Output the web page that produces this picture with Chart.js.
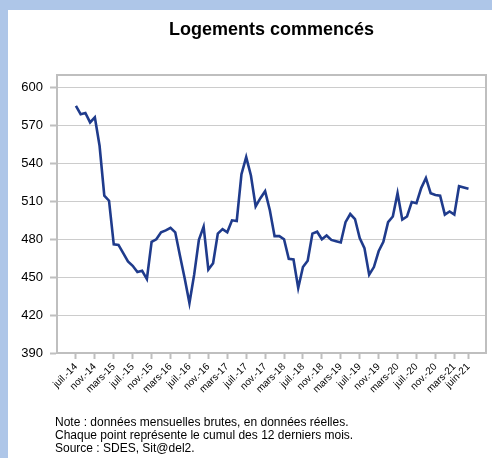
<!DOCTYPE html>
<html>
<head>
<meta charset="utf-8">
<script src="https://cdn.jsdelivr.net/npm/chart.js@4"></script>
<style>
  html, body { margin: 0; padding: 0; background: #aec6e8; }
  #wrap { width: 492px; height: 458px; }
</style>
</head>
<body>
<div id="wrap"><canvas id="c" width="492" height="458"></canvas></div>
<script>
const categories = [
  'juil.-14','août-14','sept.-14','oct.-14','nov.-14','déc.-14',
  'janv.-15','févr.-15','mars-15','avr.-15','mai-15','juin-15','juil.-15','août-15','sept.-15','oct.-15','nov.-15','déc.-15',
  'janv.-16','févr.-16','mars-16','avr.-16','mai-16','juin-16','juil.-16','août-16','sept.-16','oct.-16','nov.-16','déc.-16',
  'janv.-17','févr.-17','mars-17','avr.-17','mai-17','juin-17','juil.-17','août-17','sept.-17','oct.-17','nov.-17','déc.-17',
  'janv.-18','févr.-18','mars-18','avr.-18','mai-18','juin-18','juil.-18','août-18','sept.-18','oct.-18','nov.-18','déc.-18',
  'janv.-19','févr.-19','mars-19','avr.-19','mai-19','juin-19','juil.-19','août-19','sept.-19','oct.-19','nov.-19','déc.-19',
  'janv.-20','févr.-20','mars-20','avr.-20','mai-20','juin-20','juil.-20','août-20','sept.-20','oct.-20','nov.-20','déc.-20',
  'janv.-21','févr.-21','mars-21','avr.-21','mai-21','juin-21'
];

const logementsCommences = [
  585.5, 579, 580, 572.5, 576.5, 554, 514.5, 510.5, 476, 475.5,
  469, 462.5, 459, 454, 455, 448.5, 478, 480, 485.5, 487,
  489, 485.5, 467, 449, 429.5, 452, 479.5, 490, 456, 461,
  484.5, 488, 485.5, 495, 494.5, 531.5, 545, 530.5, 506, 512.5,
  518, 503, 482.5, 482.5, 480, 464.5, 464, 441.5, 458, 463,
  484.5, 486, 480, 483, 479.5, 478.5, 477.5, 493.5, 500, 496,
  481, 473, 452, 458, 470.5, 478, 493.5, 498, 516.5, 495.5,
  498, 509.5, 508.5, 520.5, 528.5, 516.5, 515, 514.5, 499.5, 502,
  499.5, 522, 521, 520
];

const xTickLabels = [
  'juil.-14','nov.-14','mars-15','juil.-15','nov.-15','mars-16','juil.-16','nov.-16',
  'mars-17','juil.-17','nov.-17','mars-18','juil.-18','nov.-18','mars-19','juil.-19',
  'nov.-19','mars-20','juil.-20','nov.-20','mars-21','juin-21'
];

const yTickValues = [390, 420, 450, 480, 510, 540, 570, 600];

const titleText = 'Logements commencés';
const noteLines = [
  'Note : données mensuelles brutes, en données réelles.',
  'Chaque point représente le cumul des 12 derniers mois.',
  'Source : SDES, Sit@del2.'
];

const points = logementsCommences.map((v, i) => ({ x: i, y: v }));

const FONT = '"Liberation Sans", Arial, sans-serif';

const backgroundPlugin = {
  id: 'panelBg',
  beforeDraw(chart) {
    const ctx = chart.ctx;
    ctx.save();
    ctx.fillStyle = '#aec6e8';
    ctx.fillRect(0, 0, chart.width, chart.height);
    ctx.fillStyle = '#ffffff';
    ctx.fillRect(8, 10, chart.width - 8, chart.height - 10);
    ctx.restore();
  }
};

const framePlugin = {
  id: 'frame',
  beforeDatasetsDraw(chart) {
    const a = chart.chartArea;
    const ctx = chart.ctx;
    ctx.save();
    ctx.strokeStyle = '#bfbfbf';
    ctx.lineWidth = 2;
    ctx.strokeRect(a.left, a.top, a.right - a.left, a.bottom - a.top);
    ctx.restore();
  }
};

const notesPlugin = {
  id: 'notes',
  afterDraw(chart) {
    const ctx = chart.ctx;
    ctx.save();
    ctx.fillStyle = '#000000';
    ctx.font = '12px ' + FONT;
    ctx.textAlign = 'left';
    ctx.textBaseline = 'alphabetic';
    noteLines.forEach((t, k) => ctx.fillText(t, 55, 426 + k * 13));
    ctx.restore();
  }
};

new Chart(document.getElementById('c'), {
  type: 'line',
  data: {
    datasets: [{
      data: points,
      borderColor: '#1f3b8c',
      borderWidth: 2.6,
      pointRadius: 0,
      tension: 0,
      fill: false
    }]
  },
  options: {
    responsive: false,
    animation: false,
    devicePixelRatio: 1,
    layout: { padding: { left: 0, top: 0, right: 6, bottom: 0 } },
    plugins: {
      legend: { display: false },
      tooltip: { enabled: false },
      title: {
        display: true,
        text: titleText,
        fullSize: false,
        color: '#000000',
        font: { family: FONT, size: 18, weight: 'bold', lineHeight: 1.2 },
        padding: { top: 19.6, bottom: 33.8 }
      }
    },
    scales: {
      x: {
        type: 'linear',
        min: -4,
        max: 86.7,
        afterBuildTicks(scale) {
          scale.ticks = xTickLabels.map(l => ({ value: categories.indexOf(l) }));
        },
        afterFit(scale) { scale.height = 105; },
        grid: {
          drawOnChartArea: false,
          drawTicks: true,
          tickLength: 6,
          tickColor: '#bfbfbf',
          tickWidth: 2
        },
        border: { display: true, color: '#bfbfbf', width: 2 },
        ticks: {
          autoSkip: false,
          minRotation: 45,
          maxRotation: 45,
          padding: 2,
          color: '#000000',
          font: { family: FONT, size: 10 },
          callback: (v) => categories[v]
        }
      },
      y: {
        type: 'linear',
        min: 390,
        max: 610,
        afterBuildTicks(scale) {
          scale.ticks = yTickValues.map(v => ({ value: v }));
        },
        afterFit(scale) { scale.width = 57; },
        grid: {
          color: '#cccccc',
          lineWidth: 1,
          drawTicks: true,
          tickLength: 7,
          tickColor: '#bfbfbf',
          tickWidth: 2
        },
        border: { display: true, color: '#bfbfbf', width: 2 },
        ticks: {
          padding: 7,
          color: '#000000',
          font: { family: FONT, size: 13 },
          callback: (v) => String(v)
        }
      }
    }
  },
  plugins: [backgroundPlugin, framePlugin, notesPlugin]
});
</script>
</body>
</html>
